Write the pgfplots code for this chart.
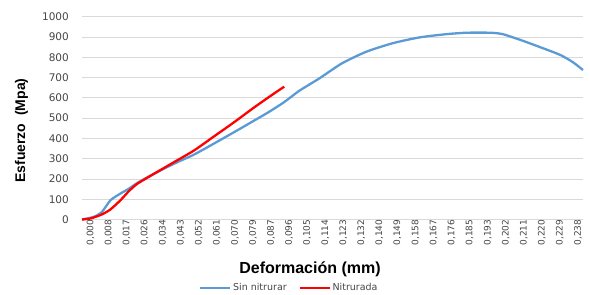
\documentclass[border=0pt]{standalone}
\usepackage{pgfplots}
\pgfplotsset{compat=1.18}
\usepackage{fontspec}
\setmainfont{DejaVu Sans}
\newfontfamily\arialb{Liberation Sans}
\definecolor{exblue}{RGB}{91,155,213}
\definecolor{exred}{RGB}{255,0,0}
\definecolor{tickgray}{RGB}{70,70,70}
\definecolor{gridgray}{RGB}{217,217,217}
\begin{document}
\begin{tikzpicture}[x=1pt,y=1pt]
\path[use as bounding box] (0,0) rectangle (590,295);
\begin{axis}[
  at={(82pt,75.5pt)}, anchor=south west,
  scale only axis, width=501pt, height=202.8pt,
  xmin=0, xmax=27.75, ymin=0, ymax=1000,
  axis line style={draw=none},
  axis x line*=bottom,
  major tick length=0pt,
  ytick={0,100,...,1000},
  ymajorgrids, grid style={gridgray, line width=0.8pt},
  xtick={0,...,27},
  xticklabels={{0,000},{0,008},{0,017},{0,026},{0,034},{0,043},{0,052},{0,061},{0,070},{0,079},{0,087},{0,096},{0,105},{0,114},{0,123},{0,132},{0,140},{0,149},{0,158},{0,167},{0,176},{0,185},{0,193},{0,202},{0,211},{0,220},{0,229},{0,238}},
  xticklabel style={rotate=90, anchor=east, inner sep=0pt, yshift=-8.5pt, font=\fontsize{9}{10}\selectfont, text=tickgray},
  yticklabel style={anchor=east, inner sep=0pt, xshift=-13pt, font=\fontsize{10.5}{11}\selectfont, text=tickgray,
    /pgf/number format/1000 sep={}},
  /pgf/number format/assume math mode=true,
  clip=false,
  legend style={at={(0.414,-0.338)}, anchor=center, draw=none, fill=none,
    legend columns=2, font=\fontsize{9.5}{10}\selectfont, text=tickgray,
    /tikz/every even column/.append style={column sep=10pt},
    inner sep=0pt, cells={anchor=west}},
  legend image code/.code={\draw[#1, line width=1.8pt] (0pt,0pt) -- (30pt,0pt);},
]
\addplot[exblue, line width=2.3pt, smooth, tension=0.4] coordinates {
(0,0) (0.65,13) (1.1,37) (1.58,95) (2.13,128) (2.6,152) (3.06,180) (4,226)
(5.1,275) (6.2,320) (7.3,374) (8.43,431) (9.54,488) (10.4,533) (11.2,579)
(12.04,635) (13.15,696) (14.4,770) (15.74,827) (17.2,869) (18.7,898)
(20.2,914) (21.3,921) (22.6,921) (23.3,914) (24.3,885) (25.4,849)
(26.5,811) (27.2,775) (27.75,737)
};
\addlegendentry{Sin nitrurar}
\addplot[exred, line width=2.3pt, smooth, tension=0.4] coordinates {
(0,0) (0.47,5) (1.1,25) (1.58,50) (2.13,95) (2.6,140) (3.06,176) (4,226)
(5.1,283) (6.2,340) (7.3,409) (8.43,480) (9.54,553) (10.65,622) (11.2,655)
};
\addlegendentry{Nitrurada}
\end{axis}
\node[anchor=base, font=\arialb\bfseries\fontsize{16}{18}\selectfont] at (310,21.7) {Deformación (mm)};
\node[anchor=base, rotate=90, font=\arialb\bfseries\fontsize{14}{16}\selectfont] at (25,164.5) {Esfuerzo\ \ (Mpa)};
\end{tikzpicture}
\end{document}
